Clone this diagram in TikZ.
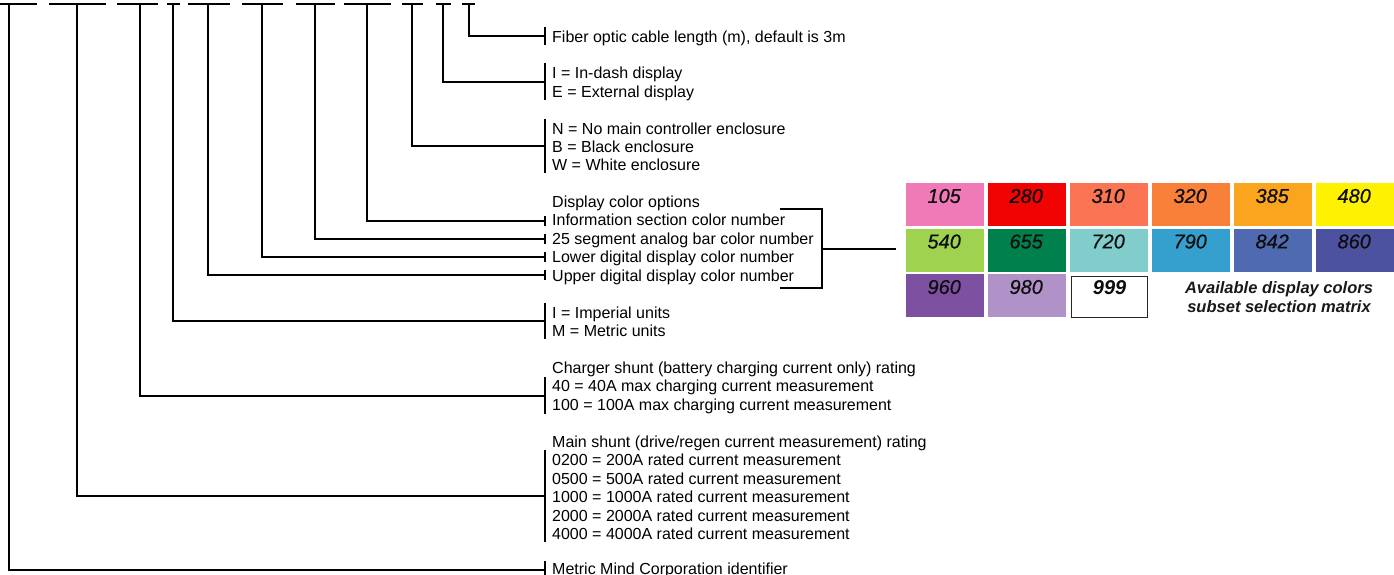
\documentclass[tikz,border=0pt]{standalone}
\usepackage{fontspec}
\setmainfont{Liberation Sans}
\newfontfamily\cellnumfont[FakeBold=0.5]{Liberation Sans}
\definecolor{c105}{HTML}{F07AB8}
\definecolor{c280}{HTML}{F20303}
\definecolor{c310}{HTML}{FB7454}
\definecolor{c320}{HTML}{F98038}
\definecolor{c385}{HTML}{FBA41E}
\definecolor{c480}{HTML}{FFF200}
\definecolor{c540}{HTML}{9ED24F}
\definecolor{c655}{HTML}{00804C}
\definecolor{c720}{HTML}{80CDCC}
\definecolor{c790}{HTML}{35A0CE}
\definecolor{c842}{HTML}{4F6AB0}
\definecolor{c860}{HTML}{4C52A0}
\definecolor{c960}{HTML}{7E50A2}
\definecolor{c980}{HTML}{B091C8}
\begin{document}
\begin{tikzpicture}[x=1pt,y=-1pt,
  ln/.style={line width=1.6pt},
  lbl/.style={anchor=base west,inner sep=0pt,font=\fontsize{16}{18}\selectfont},
  cell/.style={minimum width=78pt,minimum height=43pt,inner sep=0pt,anchor=north west,draw=none},
  num/.style={font=\fontsize{20}{20}\selectfont\cellnumfont\itshape,inner sep=0pt,text=black!95}
]
\useasboundingbox (0,0) rectangle (1394,575);

% top dashes with their branch points
\draw[ln] (0,4) -- (37,4);     \coordinate (d1) at (9,4);
\draw[ln] (49,4) -- (106,4);   \coordinate (d2) at (77,4);
\draw[ln] (117,4) -- (158,4);  \coordinate (d3) at (140,4);
\draw[ln] (167,4) -- (180,4);  \coordinate (d4) at (173,4);
\draw[ln] (188,4) -- (230,4);  \coordinate (d5) at (208,4);
\draw[ln] (242,4) -- (283,4);  \coordinate (d6) at (262,4);
\draw[ln] (296,4) -- (335,4);  \coordinate (d7) at (315,4);
\draw[ln] (344,4) -- (391,4);  \coordinate (d8) at (367,4);
\draw[ln] (402,4) -- (423,4);  \coordinate (d9) at (412,4);
\draw[ln] (436,4) -- (451,4);  \coordinate (d10) at (443,4);
\draw[ln] (462,4) -- (475,4);  \coordinate (d11) at (469,4);

% labels
\node[lbl] (fib) at (552,42.2) {Fiber optic cable length (m), default is 3m};
\node[lbl] (ie1) at (552,78.2) {I = In-dash display};
\node[lbl] (ie2) at (552,97.2) {E = External display};
\node[lbl] (en1) at (552,134.2) {N = No main controller enclosure};
\node[lbl] (en2) at (552,152.2) {B = Black enclosure};
\node[lbl] (en3) at (552,170.2) {W = White enclosure};
\node[lbl] (dc0) at (552,207.2) {Display color options};
\node[lbl] (dc1) at (552,225.7) {Information section color number};
\node[lbl] (dc2) at (552,244.2) {25 segment analog bar color number};
\node[lbl] (dc3) at (552,262.7) {Lower digital display color number};
\node[lbl] (dc4) at (552,281.2) {Upper digital display color number};
\node[lbl] (un1) at (552,318.2) {I = Imperial units};
\node[lbl] (un2) at (552,336.2) {M = Metric units};
\node[lbl] (cs0) at (552,373.2) {Charger shunt (battery charging current only) rating};
\node[lbl] (cs1) at (552,391.7) {40 = 40A max charging current measurement};
\node[lbl] (cs2) at (552,410.2) {100 = 100A max charging current measurement};
\node[lbl] (ms0) at (552,447.2) {Main shunt (drive/regen current measurement) rating};
\node[lbl] (ms1) at (552,465.7) {0200 = 200A rated current measurement};
\node[lbl] (ms2) at (552,484.2) {0500 = 500A rated current measurement};
\node[lbl] (ms3) at (552,502.7) {1000 = 1000A rated current measurement};
\node[lbl] (ms4) at (552,521.2) {2000 = 2000A rated current measurement};
\node[lbl] (ms5) at (552,539.7) {4000 = 4000A rated current measurement};
\node[lbl] (mm) at (552,574.7) {Metric Mind Corporation identifier};

% brackets at the labels
\draw[ln] (545,27) -- (545,45);   \coordinate (b11) at (545,36);
\draw[ln] (545,63) -- (545,100);  \coordinate (b10) at (545,82);
\draw[ln] (545,119) -- (545,173); \coordinate (b9) at (545,146);
\draw[ln] (545,216) -- (545,226); \coordinate (b8) at (545,221);
\draw[ln] (545,234) -- (545,244); \coordinate (b7) at (545,239);
\draw[ln] (545,252) -- (545,262); \coordinate (b6) at (545,257);
\draw[ln] (545,270) -- (545,280); \coordinate (b5) at (545,275);
\draw[ln] (545,303) -- (545,339); \coordinate (b4) at (545,321);
\draw[ln] (545,377) -- (545,414); \coordinate (b3) at (545,396);
\draw[ln] (545,450) -- (545,542); \coordinate (b2) at (545,496);
\draw[ln] (545,561) -- (545,580); \coordinate (b1) at (545,570);

% connectors
\draw[ln] (d1) |- (b1);
\draw[ln] (d2) |- (b2);
\draw[ln] (d3) |- (b3);
\draw[ln] (d4) |- (b4);
\draw[ln] (d5) |- (b5);
\draw[ln] (d6) |- (b6);
\draw[ln] (d7) |- (b7);
\draw[ln] (d8) |- (b8);
\draw[ln] (d9) |- (b9);
\draw[ln] (d10) |- (b10);
\draw[ln] (d11) |- (b11);

% right bracket to colour matrix
\coordinate (rb) at (822,249);
\coordinate (mx) at (896,249);
\draw[ln] (780,209) -- (822,209) -- (822,288) -- (780,288);
\draw[ln] (rb) -- (mx);

% colour matrix
\foreach \n/\c/\col/\row in {105/c105/0/0,280/c280/1/0,310/c310/2/0,320/c320/3/0,385/c385/4/0,480/c480/5/0,
  540/c540/0/1,655/c655/1/1,720/c720/2/1,790/c790/3/1,842/c842/4/1,860/c860/5/1,
  960/c960/0/2,980/c980/1/2}{
  \node[cell,fill=\c] (k\n) at ({906+82*\col},{183+45.5*\row}) {};
  \node[num] (t\n) at ([yshift=-13pt,xshift=-1pt]k\n.north) {\n};
}
\node[cell,fill=white,draw=black!85,line width=1.2pt,minimum width=76pt,minimum height=41pt] (k999) at (1071,276) {};
\node[num,font=\fontsize{20}{20}\selectfont\bfseries\itshape] (t999) at ([yshift=-12pt]k999.north) {999};
\node[font=\fontsize{16.5}{18.5}\selectfont\bfseries\itshape,align=center,inner sep=0pt,text=black!90] (cap) at (1279,297) {Available display colors\\subset selection matrix};
\end{tikzpicture}
\end{document}
